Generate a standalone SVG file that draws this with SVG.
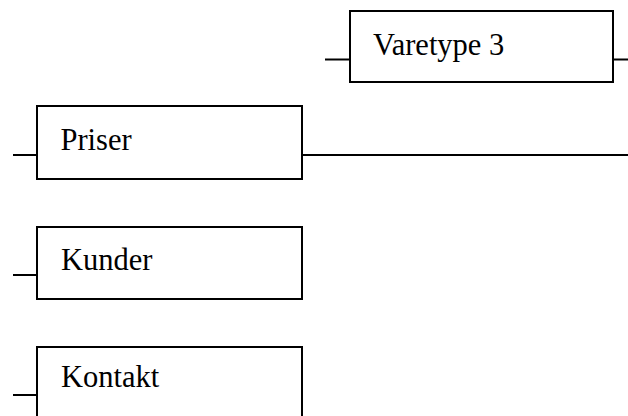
<svg xmlns="http://www.w3.org/2000/svg" width="628" height="416" viewBox="0 0 628 416">
<style>
.box{fill:#fff;stroke:#000;stroke-width:2}
.ln{stroke:#000;stroke-width:2;fill:none}
.t{font-family:"Liberation Serif","Times New Roman",serif;font-size:30.5px;fill:#000}
</style>
<rect width="628" height="416" fill="#fff"/>
<g id="connectors">
<line class="ln" x1="325" y1="59.5" x2="350" y2="59.5"/>
<line class="ln" x1="613" y1="59.5" x2="628" y2="59.5"/>
<line class="ln" x1="13" y1="155" x2="37" y2="155"/>
<line class="ln" x1="302" y1="155" x2="628" y2="155"/>
<line class="ln" x1="13" y1="275" x2="37" y2="275"/>
<line class="ln" x1="13" y1="395" x2="37" y2="395"/>
</g>
<g id="varetype3">
<rect class="box" x="350" y="11" width="263" height="71"/>
<text class="t" x="373" y="54.5">Varetype 3</text>
</g>
<g id="priser">
<rect class="box" x="37" y="106" width="265" height="73"/>
<text class="t" x="60.5" y="149.5">Priser</text>
</g>
<g id="kunder">
<rect class="box" x="37" y="227" width="265" height="72"/>
<text class="t" x="61" y="269.5">Kunder</text>
</g>
<g id="kontakt">
<rect class="box" x="37" y="347" width="265" height="80"/>
<text class="t" x="61" y="387">Kontakt</text>
</g>
</svg>
